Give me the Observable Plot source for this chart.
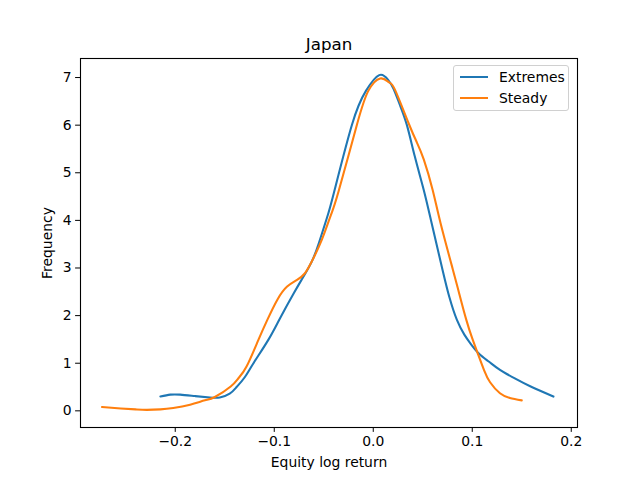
<!DOCTYPE html>
<html>
<head>
<meta charset="utf-8">
<script src="https://cdn.jsdelivr.net/npm/d3@7"></script>
<script src="https://cdn.jsdelivr.net/npm/@observablehq/plot@0.6"></script>
<style>
  body { margin: 0; background: #fff; font-family: "DejaVu Sans", sans-serif; }
  #wrap { position: relative; width: 640px; height: 480px; }
  #legend { position: absolute; left: 453px; top: 65px; width: 114px; height: 44px;
    border: 1px solid #d0d0d0; border-radius: 3px; background: rgba(255,255,255,0.8);
    font-size: 13.9px; color: #000; }
  .item { position: absolute; left: 6px; height: 16px; display: flex; align-items: center; }
  .sw { width: 28px; height: 2px; margin-right: 11px; }
</style>
</head>
<body>
<div id="wrap"></div>
<script>
const title = "Japan";
const xLabel = "Equity log return";
const yLabel = "Frequency";
const seriesNames = ["Extremes", "Steady"];
const seriesColors = ["#1f77b4", "#ff7f0e"];
const xTicks = [-0.2, -0.1, 0.0, 0.1, 0.2];
const yTicks = [0, 1, 2, 3, 4, 5, 6, 7];

const extremesX = [-0.215, -0.205, -0.195, -0.180, -0.165, -0.155, -0.145, -0.138, -0.130, -0.121, -0.106, -0.094, -0.080, -0.071, -0.062, -0.055, -0.047, -0.040, -0.0215, -0.0074, 0.006, 0.015, 0.0206, 0.027, 0.034, 0.042, 0.051, 0.059, 0.070, 0.077, 0.0845, 0.092, 0.098, 0.1064, 0.117, 0.128, 0.143, 0.159, 0.182];
const extremesY = [0.30, 0.34, 0.34, 0.31, 0.28, 0.28, 0.36, 0.50, 0.70, 1.00, 1.49, 1.95, 2.48, 2.80, 3.14, 3.52, 4.04, 4.56, 6.01, 6.72, 7.05, 6.95, 6.76, 6.42, 6.00, 5.34, 4.64, 3.94, 2.96, 2.38, 1.91, 1.60, 1.42, 1.21, 1.03, 0.86, 0.68, 0.51, 0.30];

const steadyX = [-0.274, -0.255, -0.240, -0.229, -0.215, -0.202, -0.185, -0.170, -0.160, -0.144, -0.136, -0.128, -0.116, -0.107, -0.097, -0.087, -0.077, -0.069, -0.062, -0.052, -0.043, -0.035, -0.0165, -0.005, 0.007, 0.016, 0.022, 0.0357, 0.044, 0.051, 0.060, 0.068, 0.0805, 0.087, 0.094, 0.100, 0.106, 0.112, 0.118, 0.128, 0.138, 0.150];
const steadyY = [0.08, 0.05, 0.03, 0.02, 0.03, 0.06, 0.13, 0.22, 0.29, 0.51, 0.69, 0.93, 1.49, 1.91, 2.33, 2.61, 2.75, 2.89, 3.14, 3.59, 4.10, 4.61, 6.01, 6.72, 6.98, 6.90, 6.74, 6.04, 5.64, 5.28, 4.64, 3.94, 2.96, 2.45, 1.91, 1.52, 1.18, 0.85, 0.60, 0.37, 0.27, 0.22];

const data = [
  ...extremesX.map((x, i) => ({series: seriesNames[0], x, y: extremesY[i]})),
  ...steadyX.map((x, i) => ({series: seriesNames[1], x, y: steadyY[i]}))
];

const fmt = d3.format(".1f");

const chart = Plot.plot({
  width: 640,
  height: 480,
  marginLeft: 80,
  marginRight: 63,
  marginTop: 58,
  marginBottom: 53,
  style: { fontFamily: "DejaVu Sans", fontSize: "13.9px", color: "#000", background: "#fff" },
  x: { domain: [-0.2957, 0.2063], ticks: xTicks, tickFormat: fmt, tickSize: 4.9, tickPadding: 4,
       label: xLabel, labelAnchor: "center", labelOffset: 39, labelArrow: "none", line: false },
  y: { domain: [-0.35, 7.4], ticks: yTicks, tickSize: 4.9, tickPadding: 4,
       label: yLabel, labelAnchor: "center", labelOffset: 38, labelArrow: "none", line: false },
  color: { domain: seriesNames, range: seriesColors },
  marks: [
    Plot.line(data, { x: "x", y: "y", stroke: "series", z: "series", curve: "natural", strokeWidth: 2.08 }),
    Plot.frame({ stroke: "#000", strokeWidth: 1.1 }),
    Plot.text([title], { frameAnchor: "top", dy: -14, lineAnchor: "middle", fontSize: 16.7, fill: "#000" })
  ]
});

const wrap = document.getElementById("wrap");
wrap.appendChild(chart);

const legend = document.createElement("div");
legend.id = "legend";
seriesNames.forEach((name, i) => {
  const item = document.createElement("div");
  item.className = "item";
  item.style.top = (3 + i * 21) + "px";
  const sw = document.createElement("div");
  sw.className = "sw";
  sw.style.background = seriesColors[i];
  const t = document.createElement("span");
  t.textContent = name;
  item.appendChild(sw);
  item.appendChild(t);
  legend.appendChild(item);
});
wrap.appendChild(legend);
</script>
</body>
</html>
